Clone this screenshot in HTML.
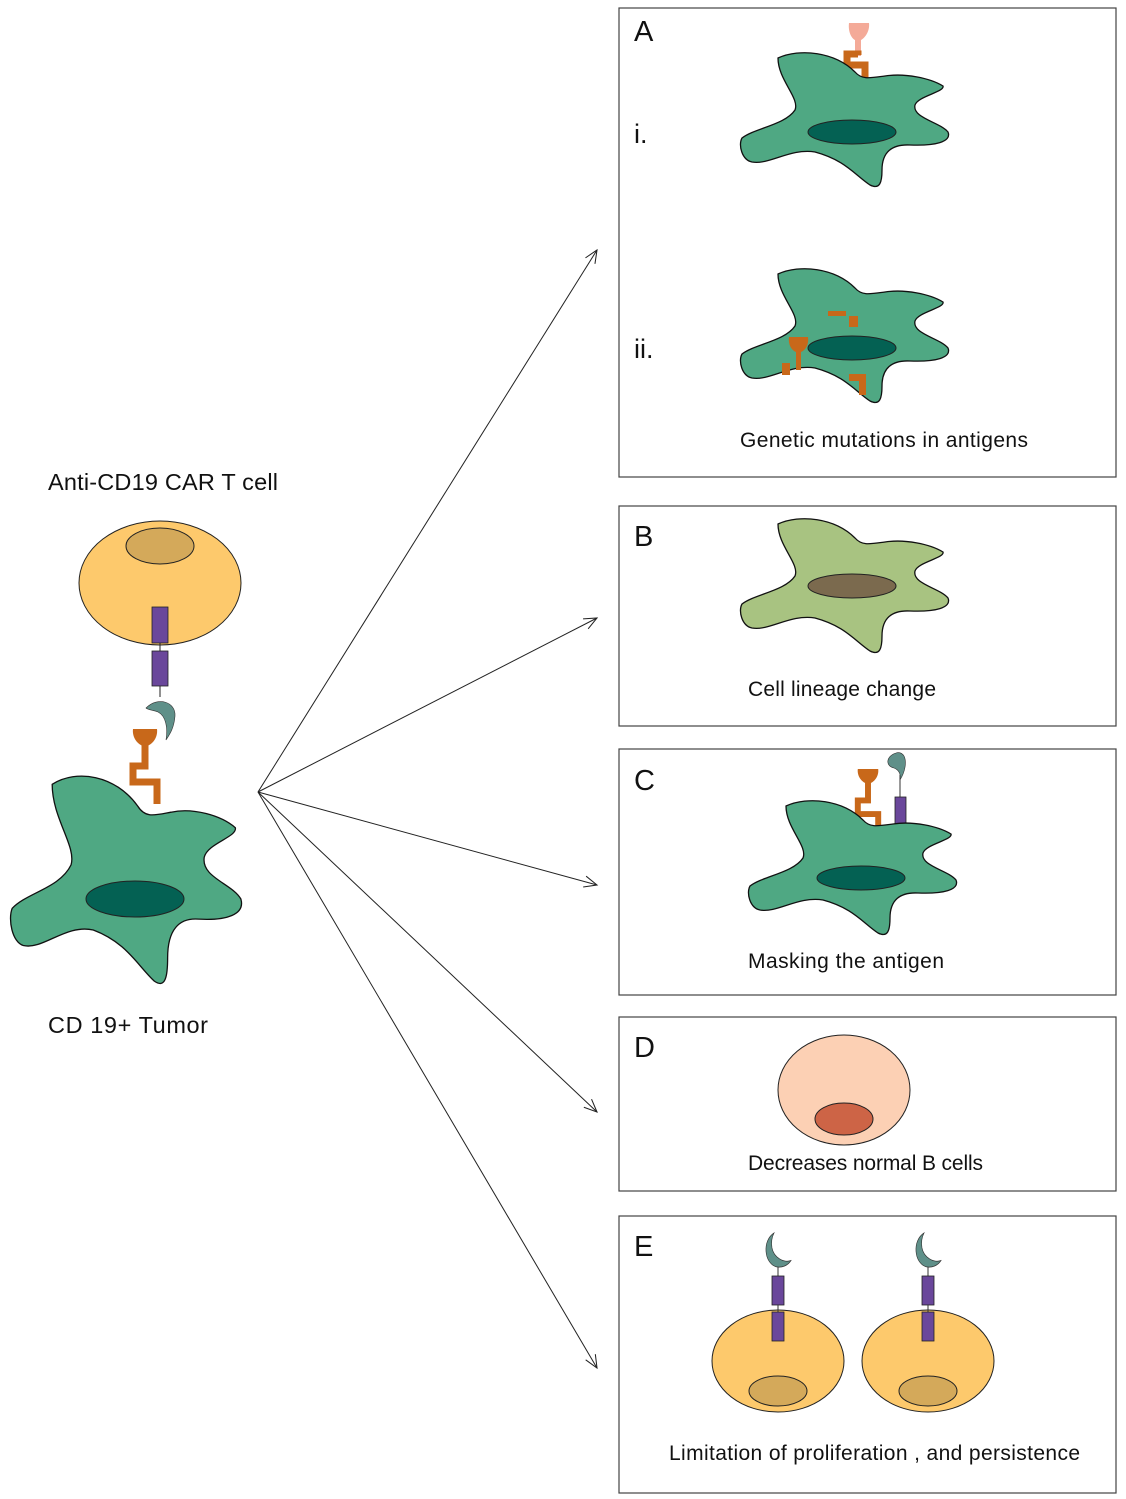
<!DOCTYPE html>
<html><head><meta charset="utf-8"><style>
body{margin:0;background:#fff}
svg{display:block}
text{font-family:"Liberation Sans",sans-serif;fill:#111}
</style></head><body>
<svg width="1126" height="1499" viewBox="0 0 1126 1499" xmlns="http://www.w3.org/2000/svg">
<defs>
<path id="tum" d="M 778 58 C 800 48, 835 52, 855 72 C 862 80, 870 78, 885 76 C 905 73, 930 78, 943 86 C 945 92, 918 96, 915 105 C 912 118, 940 122, 948 132 C 952 142, 935 146, 910 145 C 892 144, 882 152, 882 170 C 882 182, 880 190, 870 185 C 855 175, 845 160, 815 152 C 790 148, 770 165, 752 162 C 742 160, 738 145, 742 138 C 755 128, 785 125, 795 110 C 800 98, 778 80, 778 58 Z" stroke="#111" stroke-width="1.3" vector-effect="non-scaling-stroke"/>
<path id="cres" d="M 8 0 C -4 6, -2 24, 10 27 C 16 28, 22 26, 25 22 C 18 24, 8 20, 6 12 C 5 7, 6 3, 8 0 Z" fill="#5f9089" stroke="#333" stroke-width="0.6"/>
<g id="ant">
<path d="M -12 0 L 12 0 C 13 8, 8 15, 2 17 L -2 17 C -8 15, -13 8, -12 0 Z" fill="#c8681a"/>
<polyline points="0,15 0,37 -12,37 -12,53 12,53 12,75" fill="none" stroke="#c8681a" stroke-width="7"/>
</g>
<marker id="ah" viewBox="0 0 20 20" refX="18" refY="10" markerWidth="16" markerHeight="16" orient="auto" markerUnits="userSpaceOnUse"><path d="M2 3 L18 10 L2 17" fill="none" stroke="#222" stroke-width="1.3"/></marker>
</defs>

<g stroke="#222" stroke-width="1" fill="none">
<line x1="258" y1="792" x2="597" y2="250" marker-end="url(#ah)"/>
<line x1="258" y1="792" x2="597" y2="618" marker-end="url(#ah)"/>
<line x1="258" y1="792" x2="597" y2="885" marker-end="url(#ah)"/>
<line x1="258" y1="792" x2="597" y2="1112" marker-end="url(#ah)"/>
<line x1="258" y1="792" x2="597" y2="1368" marker-end="url(#ah)"/>
</g>

<text x="48" y="490" font-size="23.5" textLength="230">Anti-CD19 CAR T cell</text>
<text x="48" y="1033" font-size="23.5" textLength="160">CD 19+ Tumor</text>

<ellipse cx="160" cy="583" rx="81" ry="62" fill="#fdc96c" stroke="#222" stroke-width="1"/>
<ellipse cx="160" cy="546" rx="34" ry="18" fill="#d4a95a" stroke="#222" stroke-width="1"/>
<rect x="152" y="607" width="16" height="36" fill="#6a479b" stroke="#222" stroke-width="0.8"/>
<line x1="160" y1="643" x2="160" y2="651" stroke="#222"/>
<rect x="152" y="651" width="16" height="35" fill="#6a479b" stroke="#222" stroke-width="0.8"/>
<line x1="160" y1="686" x2="160" y2="697" stroke="#222"/>
<path d="M 146 708 C 158 696, 176 702, 175 716 C 174 728, 170 734, 166 740 C 168 728, 166 716, 158 712 C 153 710, 148 710, 146 708 Z" fill="#5f9089" stroke="#333" stroke-width="0.6"/>
<use href="#ant" transform="translate(145,729)"/>
<use href="#tum" transform="translate(-811.4,694.4) scale(1.11,1.55)" fill="#4fa883"/>
<ellipse cx="135" cy="899" rx="49" ry="18" fill="#046153" stroke="#222" stroke-width="1"/>

<g fill="none" stroke="#444" stroke-width="1.2">
<rect x="619" y="8" width="497" height="469"/>
<rect x="619" y="506" width="497" height="220"/>
<rect x="619" y="749" width="497" height="246"/>
<rect x="619" y="1017" width="497" height="174"/>
<rect x="619" y="1216" width="497" height="277"/>
</g>

<text x="634" y="41" font-size="29">A</text>
<text x="634" y="143" font-size="27">i.</text>
<text x="634" y="358" font-size="27">ii.</text>
<path d="M 849 23 L 869 23 C 870 31, 865 38, 861 40 L 861 56 L 855 56 L 855 40 C 851 38, 848 31, 849 23 Z" fill="#f4aa98"/>
<polyline points="858,55 858,54 847,54 847,65 865,65 865,78" fill="none" stroke="#c8681a" stroke-width="7"/>
<use href="#tum" fill="#4fa883"/>
<ellipse cx="852" cy="132" rx="44" ry="12" fill="#046153" stroke="#222" stroke-width="1"/>
<use href="#tum" transform="translate(0,216)" fill="#4fa883"/>
<ellipse cx="852" cy="348" rx="44" ry="12" fill="#046153" stroke="#222" stroke-width="1"/>
<g fill="#c8681a">
<rect x="828" y="311" width="18" height="5"/>
<rect x="849" y="316" width="9" height="11"/>
<path d="M 789 337 L 808 337 C 809 344, 806 350, 801 352 L 801 370 L 796 370 L 796 352 C 791 350, 788 344, 789 337 Z"/>
<rect x="782" y="363" width="8" height="12"/>
<path d="M 849 374 L 866 374 L 866 395 L 859 395 L 859 381 L 849 381 Z"/>
</g>
<text x="740" y="447" font-size="21" textLength="288">Genetic mutations in antigens</text>

<text x="634" y="546" font-size="29">B</text>
<use href="#tum" transform="translate(0,466)" fill="#a8c381"/>
<ellipse cx="852" cy="586" rx="44" ry="12" fill="#7b6a4e" stroke="#222" stroke-width="1"/>
<text x="748" y="696" font-size="21" textLength="188">Cell lineage change</text>

<text x="634" y="790" font-size="29">C</text>
<use href="#ant" transform="translate(868,769) scale(0.85)"/>
<line x1="900" y1="775" x2="900" y2="797" stroke="#333" stroke-width="1"/>
<path d="M 896 753 C 886 756, 885 766, 894 768 C 899 770, 901 774, 900 780 C 905 772, 907 762, 904 756 C 902 753, 899 752, 896 753 Z" fill="#5f9089" stroke="#333" stroke-width="0.6"/>
<rect x="895" y="797" width="11" height="27" fill="#6a479b" stroke="#222" stroke-width="0.8"/>
<use href="#tum" transform="translate(8,748)" fill="#4fa883"/>
<ellipse cx="861" cy="878" rx="44" ry="12" fill="#046153" stroke="#222" stroke-width="1"/>
<text x="748" y="968" font-size="21" textLength="196">Masking the antigen</text>

<text x="634" y="1057" font-size="29">D</text>
<ellipse cx="844" cy="1090" rx="66" ry="55" fill="#fcd0b4" stroke="#222" stroke-width="1"/>
<ellipse cx="844" cy="1119" rx="29" ry="16" fill="#cd6446" stroke="#222" stroke-width="1"/>
<text x="748" y="1170" font-size="21" textLength="235">Decreases normal B cells</text>

<text x="634" y="1256" font-size="29">E</text>
<g>
<ellipse cx="778" cy="1361" rx="66" ry="51" fill="#fdc96c" stroke="#222" stroke-width="1"/>
<ellipse cx="778" cy="1391" rx="29" ry="15" fill="#d4a95a" stroke="#222" stroke-width="1"/>
<line x1="778" y1="1266" x2="778" y2="1276" stroke="#333"/>
<rect x="772" y="1276" width="12" height="29" fill="#6a479b" stroke="#222" stroke-width="0.8"/>
<line x1="778" y1="1305" x2="778" y2="1312" stroke="#333"/>
<rect x="772" y="1312" width="12" height="29" fill="#6a479b" stroke="#222" stroke-width="0.8"/>
<use href="#cres" transform="translate(766,1233) scale(1.0,1.25)"/>
</g>
<g>
<ellipse cx="928" cy="1361" rx="66" ry="51" fill="#fdc96c" stroke="#222" stroke-width="1"/>
<ellipse cx="928" cy="1391" rx="29" ry="15" fill="#d4a95a" stroke="#222" stroke-width="1"/>
<line x1="928" y1="1266" x2="928" y2="1276" stroke="#333"/>
<rect x="922" y="1276" width="12" height="29" fill="#6a479b" stroke="#222" stroke-width="0.8"/>
<line x1="928" y1="1305" x2="928" y2="1312" stroke="#333"/>
<rect x="922" y="1312" width="12" height="29" fill="#6a479b" stroke="#222" stroke-width="0.8"/>
<use href="#cres" transform="translate(916,1233) scale(1.0,1.25)"/>
</g>
<text x="669" y="1460" font-size="21" textLength="411">Limitation of proliferation , and persistence</text>
</svg>
</body></html>
